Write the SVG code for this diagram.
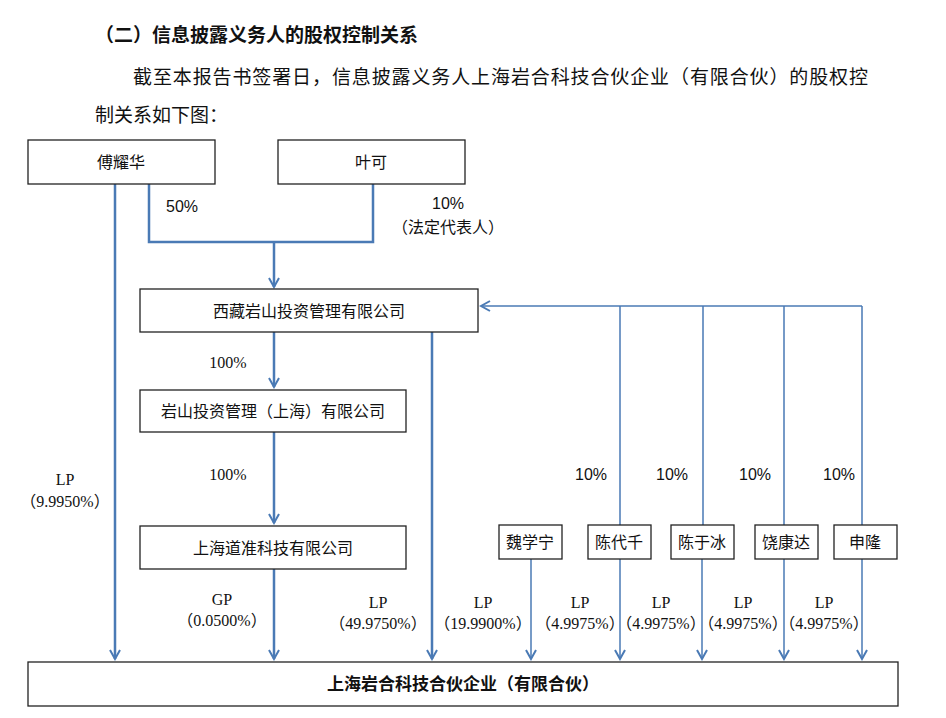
<svg xmlns="http://www.w3.org/2000/svg" width="946" height="718" viewBox="0 0 946 718">
<style>
text{font-family:"Liberation Serif","Noto Sans CJK SC",serif;font-size:16px;fill:#111}
.s{font-family:"Liberation Sans","Noto Sans CJK SC",sans-serif;font-size:16px}
.h{font-family:"Noto Sans CJK SC",sans-serif;font-size:19px}
.b{fill:#fff;stroke:#222;stroke-width:1.3}
.c{fill:none;stroke:#4a7ab5;stroke-width:2.5}
.t{fill:none;stroke:#4a7ab5;stroke-width:1.5}
</style>
<defs><marker id="a" markerWidth="12" markerHeight="12" refX="10" refY="6" orient="auto" markerUnits="userSpaceOnUse"><path d="M1,1 L10,6 L1,11" fill="none" stroke="#4a7ab5" stroke-width="2"/></marker></defs>
<text x="95" y="42" class="h" font-weight="bold">（二）信息披露义务人的股权控制关系</text>
<text x="133" y="84" class="h" textLength="735">截至本报告书签署日，信息披露义务人上海岩合科技合伙企业（有限合伙）的股权控</text>
<text x="95" y="122" class="h">制关系如下图：</text>
<g id="connectors">
<path class="c" d="M115,184 V659" marker-end="url(#a)"/>
<path class="c" d="M149,184 V242 H373 V184"/>
<path class="c" d="M274,242 V287" marker-end="url(#a)"/>
<path class="c" d="M274,332 V387" marker-end="url(#a)"/>
<path class="c" d="M274,432 V523" marker-end="url(#a)"/>
<path class="c" d="M274,569 V659" marker-end="url(#a)"/>
<path class="c" d="M432,332 V659" marker-end="url(#a)"/>
<path class="t" d="M862,306 H481" marker-end="url(#a)"/>
<path class="t" d="M620,306 V525 M703,306 V525 M784,306 V525 M862,306 V525"/>
<path class="t" d="M531,559 V659" marker-end="url(#a)"/>
<path class="t" d="M620,559 V659" marker-end="url(#a)"/>
<path class="t" d="M702,559 V659" marker-end="url(#a)"/>
<path class="t" d="M784,559 V659" marker-end="url(#a)"/>
<path class="t" d="M862,559 V659" marker-end="url(#a)"/>
</g>
<g text-anchor="middle">
<text x="182" y="212" class="s">50%</text>
<text x="448" y="209" class="s">10%</text>
<text x="448" y="233">（法定代表人）</text>
<text x="228" y="368">100%</text>
<text x="228" y="480">100%</text>
<text x="65" y="485">LP</text>
<text x="65" y="507">（9.9950%）</text>
<text x="222" y="605">GP</text>
<text x="222" y="626">（0.0500%）</text>
<text x="378" y="608">LP</text>
<text x="378" y="629">（49.9750%）</text>
<text x="483" y="608">LP</text>
<text x="483" y="629">（19.9900%）</text>
<text x="580" y="608">LP</text>
<text x="580" y="629">（4.9975%）</text>
<text x="661" y="608">LP</text>
<text x="661" y="629">（4.9975%）</text>
<text x="743" y="608">LP</text>
<text x="743" y="629">（4.9975%）</text>
<text x="824" y="608">LP</text>
<text x="824" y="629">（4.9975%）</text>
<text x="591" y="480" class="s">10%</text>
<text x="672" y="480" class="s">10%</text>
<text x="755" y="480" class="s">10%</text>
<text x="839" y="480" class="s">10%</text>
</g>
<g id="fu"><rect class="b" x="28" y="140" width="187" height="44"/><text x="121" y="168" text-anchor="middle">傅耀华</text></g>
<g id="ye"><rect class="b" x="278" y="140" width="187" height="44"/><text x="371" y="168" text-anchor="middle">叶可</text></g>
<g id="xz"><rect class="b" x="140" y="289" width="338" height="43"/><text x="309" y="317" text-anchor="middle">西藏岩山投资管理有限公司</text></g>
<g id="ys"><rect class="b" x="140" y="390" width="266" height="42"/><text x="273" y="417" text-anchor="middle">岩山投资管理（上海）有限公司</text></g>
<g id="dz"><rect class="b" x="140" y="526" width="266" height="43"/><text x="273" y="554" text-anchor="middle">上海道准科技有限公司</text></g>
<g id="wxn"><rect class="b" x="499" y="525" width="63" height="34"/><text x="530" y="548" text-anchor="middle">魏学宁</text></g>
<g id="cdq"><rect class="b" x="588" y="525" width="63" height="34"/><text x="619" y="548" text-anchor="middle">陈代千</text></g>
<g id="cyb"><rect class="b" x="671" y="525" width="63" height="34"/><text x="702" y="548" text-anchor="middle">陈于冰</text></g>
<g id="rkd"><rect class="b" x="755" y="525" width="63" height="34"/><text x="786" y="548" text-anchor="middle">饶康达</text></g>
<g id="sl"><rect class="b" x="834" y="525" width="63" height="34"/><text x="865" y="548" text-anchor="middle">申隆</text></g>
<g id="yh"><rect class="b" x="28" y="662" width="870" height="44"/><text x="463" y="690" text-anchor="middle" font-weight="bold" style="font-family:'Noto Sans CJK SC',sans-serif;font-size:17px">上海岩合科技合伙企业（有限合伙）</text></g>
</svg>
